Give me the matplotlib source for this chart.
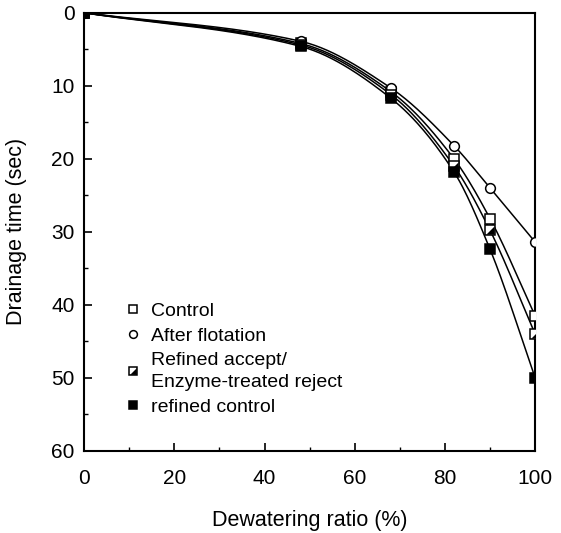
import numpy as np
import matplotlib
matplotlib.use("Agg")
import matplotlib.pyplot as plt
from matplotlib.legend_handler import HandlerTuple

plt.rcParams['font.family'] = ['Liberation Sans', 'DejaVu Sans']

# dewatering ratio (%) and drainage time (sec)
ratio = [0, 48, 68, 82, 90, 100]
control = [0, 4.2, 10.8, 20.0, 28.2, 41.5]
flotation = [0, 3.9, 10.3, 18.2, 24.0, 31.4]
refined_accept = [0, 4.4, 11.2, 21.0, 29.8, 44.0]
refined_control = [0, 4.6, 11.7, 21.8, 32.4, 50.0]


def pchip(x, y, xs):
    # monotone cubic (Fritsch-Carlson), just for drawing smooth lines
    x = np.asarray(x, float)
    y = np.asarray(y, float)
    h = np.diff(x)
    d = np.diff(y) / h
    m = np.zeros_like(y)
    m[0], m[-1] = d[0], d[-1]
    for k in range(1, len(x) - 1):
        if d[k - 1] * d[k] > 0:
            w1 = 2 * h[k] + h[k - 1]
            w2 = h[k] + 2 * h[k - 1]
            m[k] = (w1 + w2) / (w1 / d[k - 1] + w2 / d[k])
    i = np.clip(np.searchsorted(x, xs) - 1, 0, len(x) - 2)
    t = (xs - x[i]) / h[i]
    h00 = 2 * t**3 - 3 * t**2 + 1
    h10 = t**3 - 2 * t**2 + t
    h01 = -2 * t**3 + 3 * t**2
    h11 = t**3 - t**2
    return h00 * y[i] + h10 * h[i] * m[i] + h01 * y[i + 1] + h11 * h[i] * m[i + 1]


fig = plt.figure(figsize=(5.61, 5.33), dpi=100)
ax = fig.add_axes([0.15, 0.154, 0.804, 0.822])

xs = np.linspace(0, 100, 300)
for ys in [control, flotation, refined_accept, refined_control]:
    ax.plot(xs, pchip(ratio, ys, xs), color='black', lw=1.1, zorder=2)

ms = 7
h_ctrl, = ax.plot(ratio, control, 's', ms=ms, mfc='white', mec='black', mew=1.1, zorder=3)
h_flot, = ax.plot(ratio, flotation, 'o', ms=ms, mfc='white', mec='black', mew=1.1, zorder=3)
h_ra1, = ax.plot(ratio, refined_accept, 's', ms=ms, mfc='white', mec='black', mew=1.1, zorder=3)
tri = [(1, 1), (1, -1), (-1, -1), (1, 1)]
h_ra2, = ax.plot(ratio, refined_accept, ls='none', marker=tri, ms=ms - 1, mfc='black', mec='black', mew=0, zorder=4)
h_rc, = ax.plot(ratio, refined_control, 's', ms=ms, mfc='black', mec='black', mew=1.1, zorder=3)

leg = ax.legend([h_ctrl, h_flot, (h_ra1, h_ra2), h_rc],
                ['Control', 'After flotation', 'Refined accept/\nEnzyme-treated reject', 'refined control'],
                handler_map={tuple: HandlerTuple(ndivide=1)},
                loc='upper left', bbox_to_anchor=(0.07, 0.362), frameon=False,
                fontsize=14, handlelength=0.8, handletextpad=0.5, labelspacing=0.38,
                borderpad=0, markerscale=0.8)
for t in leg.get_texts():
    t.set_linespacing(1.4)

ax.set_xlim(0, 100)
ax.set_ylim(60, 0)
ax.set_xticks(range(0, 101, 20))
ax.set_xticks(range(0, 101, 10), minor=True)
ax.set_yticks(range(0, 61, 10))
ax.set_yticks(range(0, 61, 5), minor=True)
ax.tick_params(direction='in', which='major', length=6, width=1.2, labelsize=15)
ax.tick_params(axis='x', which='major', pad=13)
ax.tick_params(axis='y', which='major', pad=7)
ax.tick_params(direction='in', which='minor', length=3, width=1.0)
for s in ax.spines.values():
    s.set_linewidth(1.5)

ax.set_xlabel('Dewatering ratio (%)', fontsize=15.5, labelpad=16)
ax.set_ylabel('Drainage time (sec)', fontsize=15.5, labelpad=17)

fig.savefig('out.png', dpi=100)
